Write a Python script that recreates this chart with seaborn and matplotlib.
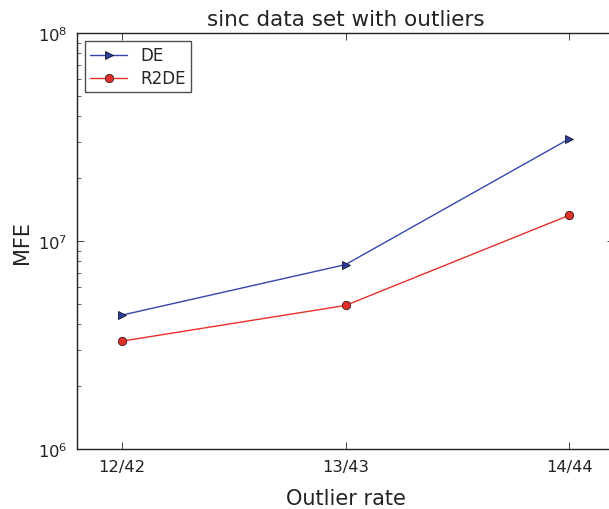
import matplotlib
matplotlib.use("Agg")
import matplotlib.pyplot as plt
import seaborn as sns
import pandas as pd
import numpy as np
from matplotlib.ticker import LogLocator, NullFormatter

categories = ["12/42", "13/43", "14/44"]
de_values = [4.4e6, 7.7e6, 3.1e7]
r2de_values = [3.3e6, 4.9e6, 1.33e7]

sns.set_theme(style="white")
plt.rcParams['font.family'] = ['DejaVu Sans']
plt.rcParams['xtick.direction'] = 'in'
plt.rcParams['ytick.direction'] = 'in'

fig = plt.figure(figsize=(6.09, 5.10), dpi=100)
ax = fig.add_axes([77/609, 60/510, (614-77)/609, (450-34)/510])

pos = np.arange(len(categories))
df_de = pd.DataFrame({"x": pos, "y": de_values})
df_r2 = pd.DataFrame({"x": pos, "y": r2de_values})

sns.lineplot(data=df_de, x="x", y="y", ax=ax, color="#3546b0", lw=1.0,
             marker=">", markersize=6, markerfacecolor="#2a3d9a",
             markeredgecolor="#1a1a2a", markeredgewidth=0.6, label="DE")
sns.lineplot(data=df_r2, x="x", y="y", ax=ax, color="#e8302a", lw=1.0,
             marker="o", markersize=6, markerfacecolor="#e0302a",
             markeredgecolor="#3a1a1a", markeredgewidth=0.6, label="R2DE")

ax.set_yscale("log")
ax.set_ylim(1e6, 1e8)
ax.set_xlim(-0.2, 2.2)
ax.set_xticks(pos)
ax.set_xticklabels(categories)
ax.yaxis.set_major_locator(LogLocator(base=10, numticks=10))
ax.yaxis.set_minor_locator(LogLocator(base=10, subs=np.arange(2, 10), numticks=20))
ax.yaxis.set_minor_formatter(NullFormatter())

for s in ax.spines.values():
    s.set_color("#222222")
    s.set_linewidth(1.0)
ax.tick_params(axis="both", which="major", direction="in", length=5, width=0.6,
               labelsize=11.8, colors="#222222", top=True, right=True, left=True, bottom=True,
               pad=7)
ax.tick_params(axis="y", which="minor", direction="in", length=3, width=0.5,
               left=True, right=True)
ax.tick_params(axis="x", which="minor", bottom=False, top=False)

ax.set_xlabel("Outlier rate", fontsize=15, labelpad=10, color="#222222")
ax.set_ylabel("MFE", fontsize=15, labelpad=4, color="#222222")
ax.set_title("sinc data set with outliers", fontsize=15.5, color="#222222", pad=6)

leg = ax.legend(loc="upper left", fontsize=12, frameon=True, fancybox=False,
                edgecolor="#222222", borderpad=0.3, labelspacing=0.3,
                handlelength=2.2, borderaxespad=0.5)
leg.get_frame().set_linewidth(1.0)

fig.savefig("out.png", dpi=100)
